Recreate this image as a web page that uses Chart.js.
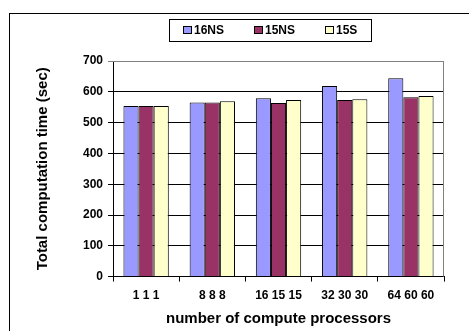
<!DOCTYPE html>
<html>
<head>
<meta charset="utf-8">
<script src="https://cdn.jsdelivr.net/npm/chart.js@4"></script>
<style>
  html, body { margin: 0; padding: 0; background: #fff; overflow: hidden; }
  #wrap { position: relative; width: 469px; height: 331px; }
  #frame { position: absolute; left: 9px; top: 13px; width: 470px; height: 330px; border: 1px solid #000; box-sizing: border-box; }
  #legend { position: absolute; left: 169px; top: 19px; width: 203px; height: 23px; border: 1px solid #000; box-sizing: border-box;
            font: bold 12px "Liberation Sans", Arial, sans-serif; }
  .item { position: absolute; top: 4px; line-height: 13px; }
  .sw { display: inline-block; width: 7px; height: 6px; border: 1px solid #000; vertical-align: 0px; margin-right: 2px; }
  canvas { position: absolute; left: 0; top: 0; }
</style>
</head>
<body>
<div id="wrap">
  <div id="frame"></div>
  <canvas id="chart" width="469" height="331"></canvas>
  <div id="legend"></div>
</div>
<script>
// Total computation time (sec) per processor configuration
const categories = ['1 1 1', '8 8 8', '16 15 15', '32 30 30', '64 60 60'];
const series16NS = [554, 565, 579, 619, 644];
const series15NS = [554, 565, 564, 573, 582];
const series15S  = [554, 569, 573, 576, 586];
const yTicks = [0, 100, 200, 300, 400, 500, 600, 700];

const seriesNames = ['16NS', '15NS', '15S'];
const colors = ['#9999FF', '#993366', '#FFFFCC'];

// legend box as in the original
const legendEl = document.getElementById('legend');
const legendX = [13, 84, 155];
seriesNames.forEach((name, i) => {
  const d = document.createElement('div');
  d.className = 'item';
  d.style.left = legendX[i] + 'px';
  d.innerHTML = '<span class="sw" style="background:' + colors[i] + '"></span>' + name;
  legendEl.appendChild(d);
});

const font = { family: '"Liberation Sans", Arial, sans-serif', weight: 'bold' };

// gray border on top / right of the plot area
const plotBorder = {
  id: 'plotBorder',
  beforeDatasetsDraw(chart) {
    const a = chart.chartArea, ctx = chart.ctx;
    ctx.save();
    ctx.strokeStyle = '#808080';
    ctx.lineWidth = 1;
    ctx.beginPath();
    ctx.moveTo(a.left, a.top + 0.5);
    ctx.lineTo(a.right - 0.5, a.top + 0.5);
    ctx.lineTo(a.right - 0.5, a.bottom);
    ctx.stroke();
    ctx.restore();
  }
};

new Chart(document.getElementById('chart'), {
  type: 'bar',
  data: {
    labels: categories,
    datasets: [
      { label: '16NS', data: series16NS, backgroundColor: colors[0], borderColor: '#000', borderWidth: 1 },
      { label: '15NS', data: series15NS, backgroundColor: colors[1], borderColor: '#000', borderWidth: 1 },
      { label: '15S',  data: series15S,  backgroundColor: colors[2], borderColor: '#000', borderWidth: 1 },
    ]
  },
  options: {
    responsive: false,
    animation: false,
    layout: { padding: { top: 61, right: 25, bottom: 3, left: 34 } },
    plugins: { legend: { display: false }, tooltip: { enabled: false } },
    datasets: { bar: { categoryPercentage: 0.685, barPercentage: 1.0 } },
    scales: {
      x: {
        grid: { offset: true, drawOnChartArea: false, color: '#000', tickLength: 5 },
        border: { color: '#000' },
        ticks: { color: '#000', font: { ...font, size: 12 }, padding: 7 },
        title: { display: true, text: 'number of compute processors', color: '#000', font: { ...font, size: 15 }, padding: { top: 0, bottom: 0 } }
      },
      y: {
        min: 0, max: 700,
        afterBuildTicks: (axis) => { axis.ticks = yTicks.map(v => ({ value: v })); },
        grid: {
          color: (c) => c.tick && c.tick.value === 700 ? '#808080' : '#000',
          tickLength: 5
        },
        border: { color: '#000' },
        ticks: { color: '#000', font: { ...font, size: 12 }, padding: 5 },
        title: { display: true, text: 'Total computation time (sec)', color: '#000', font: { ...font, size: 15 }, padding: { top: 0, bottom: 26 } }
      }
    }
  },
  plugins: [plotBorder]
});
</script>
</body>
</html>
